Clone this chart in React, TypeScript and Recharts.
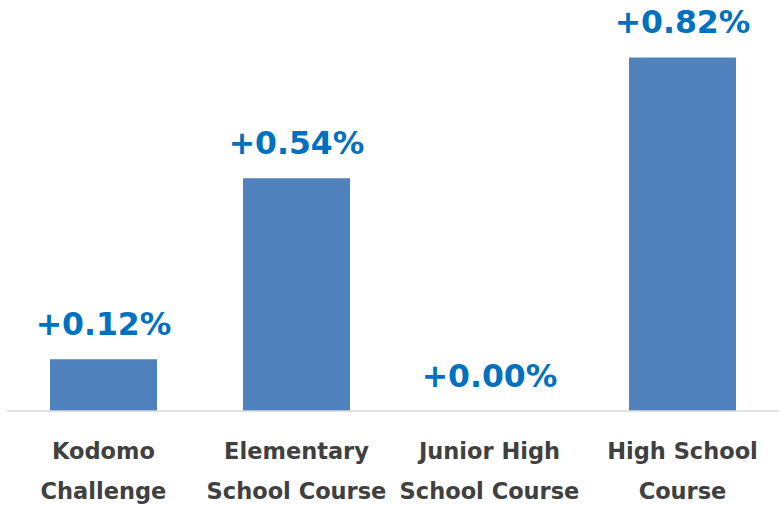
import { ComposedChart, Bar, Line, XAxis, YAxis, LabelList } from 'recharts'

const categories = ['Kodomo|Challenge', 'Elementary|School Course', 'Junior High|School Course', 'High School|Course']
const changes = [0.12, 0.54, 0.0, 0.82]

const data = categories.map((name, i) => ({ name, value: changes[i] }))

const FONT = '"DejaVu Sans", Verdana, sans-serif'

function CategoryTick({ x, y, payload }: { x?: number; y?: number; payload?: { value: string } }) {
  const lines = (payload?.value ?? '').split('|')
  return (
    <text
      x={x}
      y={y}
      textAnchor="middle"
      fill="#404040"
      fontFamily={FONT}
      fontWeight="bold"
      fontSize={22.5}
    >
      {lines.map((line, i) => (
        <tspan key={i} x={x} dy={i === 0 ? 40 : 39.5}>
          {line}
        </tspan>
      ))}
    </text>
  )
}

// labels hang off an invisible line so the zero bar gets one too
function ValueLabel(props: { x?: number; y?: number; value?: number }) {
  const { x = 0, y = 0, value = 0 } = props
  return (
    <text
      x={x}
      y={y - 24}
      textAnchor="middle"
      fill="#0070c0"
      fontFamily={FONT}
      fontWeight="bold"
      fontSize={31.5}
    >
      {`+${Number(value).toFixed(2)}%`}
    </text>
  )
}

export default function App() {
  return (
    <div style={{ position: 'absolute', left: 0, top: 0, background: '#fff' }}>
      <ComposedChart
        width={781}
        height={505}
        data={data}
        margin={{ top: 23, right: 2, bottom: 0, left: 7 }}
      >
        <XAxis
          dataKey="name"
          axisLine={{ stroke: '#d9d9d9', strokeWidth: 1.5 }}
          tickLine={false}
          tick={<CategoryTick />}
          interval={0}
          height={94}
        />
        <YAxis hide domain={[0, 0.9]} />
        <Bar dataKey="value" fill="#4f81bd" barSize={107} isAnimationActive={false} />
        <Line
          dataKey="value"
          stroke="none"
          dot={false}
          activeDot={false}
          isAnimationActive={false}
        >
          <LabelList dataKey="value" content={<ValueLabel />} />
        </Line>
      </ComposedChart>
    </div>
  )
}
